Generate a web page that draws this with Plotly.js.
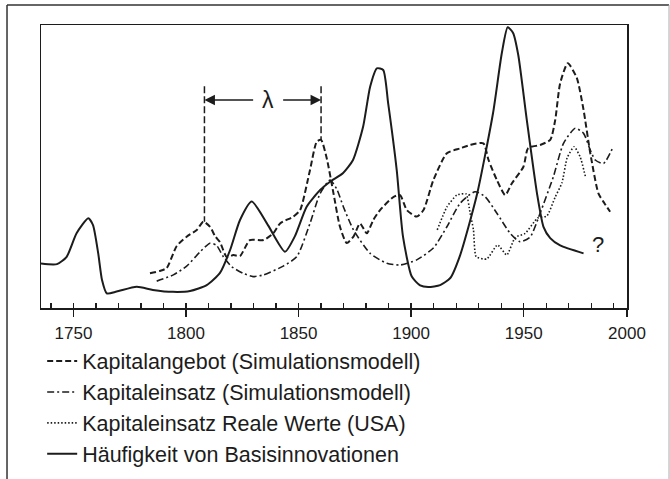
<!DOCTYPE html>
<html>
<head>
<meta charset="utf-8">
<script src="https://cdn.plot.ly/plotly-3.0.1.min.js"></script>
<style>html,body{margin:0;padding:0;background:#fff;}#chart{width:670px;height:479px;}</style>
</head>
<body>
<div id="chart"></div>
<script>
// Häufigkeit von Basisinnovationen (solid)
const innovYears = [1735.6,1742.7,1747.0,1751.4,1756.6,1758.7,1761.0,1762.7,1764.8,1769.2,1778.1,1785.3,1794.2,1801.8,1809.2,1815.1,1819.6,1824.0,1829.2,1836.4,1844.0,1848.4,1853.6,1859.6,1864.0,1869.8,1874.2,1878.7,1881.8,1884.8,1887.6,1889.8,1893.6,1896.4,1900.3,1904.0,1907.6,1912.9,1917.4,1921.8,1929.2,1936.4,1940.3,1942.9,1945.3,1947.6,1951.4,1955.9,1958.8,1961.8,1966.2,1976.6];
const innovVals  = [15.7,15.5,18.1,26.4,31.7,29.3,19.4,9.9,5.2,5.8,7.5,6.4,5.7,6.0,8.1,12.4,20.5,31.1,37.6,29.3,19.9,25.4,35.8,41.7,44.6,47.7,52.3,64.1,78.2,84.7,84.1,72.4,48.8,25.2,11.1,8.0,7.4,8.1,10.6,18.7,39.9,68.9,90.1,99.2,97.2,89.4,66.4,40.6,28.7,24.7,22.1,19.3];

// Kapitalangebot (Simulationsmodell) (dashed)
const angebotYears = [1784.0,1788.4,1791.4,1795.9,1800.3,1804.8,1807.7,1810.7,1812.9,1815.1,1818.1,1821.0,1824.0,1828.4,1834.4,1838.8,1841.8,1847.7,1850.7,1855.1,1858.1,1860.0,1862.5,1865.5,1868.4,1871.4,1874.4,1877.3,1880.3,1883.2,1886.2,1892.1,1895.1,1898.1,1902.5,1905.5,1909.9,1915.9,1921.8,1926.2,1932.1,1934.4,1938.1,1941.8,1944.8,1949.9,1952.0,1957.3,1961.8,1964.0,1966.2,1969.6,1973.6,1976.6,1979.6,1983.2,1985.8,1988.4];
const angebotVals  = [12.3,13.1,14.1,21.9,25.2,27.6,30.5,28.7,25.4,23.3,18.0,18.7,18.4,24.0,24.0,26.4,29.9,32.3,34.6,48.8,58.8,59.4,53.0,40.6,28.7,23.0,25.2,29.9,26.4,31.1,34.6,39.2,39.9,34.6,32.3,34.6,45.2,54.7,56.4,57.6,58.2,52.3,45.2,39.9,44.1,49.9,56.5,57.6,59.4,66.4,79.4,86.5,81.3,70.0,54.7,40.5,37.1,34.0];

// Kapitaleinsatz (Simulationsmodell) (dash-dot)
const einsatzYears = [1787.0,1794.4,1800.3,1806.2,1810.7,1813.6,1816.6,1820.3,1825.5,1829.8,1834.4,1843.2,1849.2,1855.1,1859.6,1864.0,1867.0,1869.9,1874.4,1881.8,1889.2,1895.1,1902.5,1909.9,1915.9,1921.8,1928.4,1932.9,1938.1,1944.0,1948.4,1952.9,1957.3,1963.2,1967.7,1972.9,1976.6,1979.6,1981.8,1985.5,1989.8];
const einsatzVals  = [9.5,11.7,14.8,19.8,22.9,22.1,18.1,14.6,12.2,11.1,11.7,14.8,18.1,29.9,40.5,45.2,42.0,35.8,27.6,19.3,15.8,15.2,17.0,21.2,28.7,37.0,41.1,39.3,33.5,26.4,23.4,25.1,33.5,46.4,58.2,63.5,61.7,55.8,52.3,51.1,57.0];

// Kapitaleinsatz Reale Werte (USA) (dotted)
const realYears = [1911.6,1915.9,1920.3,1924.4,1926.2,1927.7,1928.9,1933.6,1938.4,1942.5,1946.2,1950.7,1956.2,1960.3,1964.0,1967.0,1969.3,1972.4,1975.1,1977.6];
const realVals  = [27.6,35.7,39.9,40.3,33.6,27.6,18.1,17.3,22.3,18.7,24.9,26.4,31.8,32.5,39.2,44.2,53.0,57.0,53.4,45.9];

const seriesNames = ["Kapitalangebot (Simulationsmodell)","Kapitaleinsatz (Simulationsmodell)","Kapitaleinsatz Reale Werte (USA)","Häufigkeit von Basisinnovationen"];
const majorTicks = [1750,1800,1850,1900,1950,1995.9];
const majorLabels = ["1750","1800","1850","1900","1950","2000"];
const lambdaLeft = 1808.2, lambdaRight = 1860.0;

const ink = "#1c1c1c";
const traces = [
  {x: angebotYears, y: angebotVals, name: seriesNames[0], mode: "lines",
   line: {color: ink, width: 2, dash: "6px,3px", shape: "spline", smoothing: 0.6}},
  {x: einsatzYears, y: einsatzVals, name: seriesNames[1], mode: "lines",
   line: {color: ink, width: 1.6, dash: "7px,3px,2px,3px", shape: "spline", smoothing: 0.6}},
  {x: realYears, y: realVals, name: seriesNames[2], mode: "lines",
   line: {color: ink, width: 1.6, dash: "1.5px,2px", shape: "spline", smoothing: 0.5}},
  {x: innovYears, y: innovVals, name: seriesNames[3], mode: "lines",
   line: {color: ink, width: 2, shape: "spline", smoothing: 0.6}},
  {x: [majorTicks[0]], y: [null], xaxis: "x2", yaxis: "y", mode: "lines", showlegend: false, hoverinfo: "skip"}
];

const xr = [1735.6, 1995.9];
const layout = {
  width: 670, height: 479,
  margin: {l: 41, r: 43, t: 25, b: 171, autoexpand: false},
  paper_bgcolor: "#fff", plot_bgcolor: "#fff",
  font: {family: "Liberation Sans, Arial, sans-serif", color: ink},
  showlegend: true,
  legend: {x: 0.002, xanchor: "left", y: -0.115, yanchor: "top", borderwidth: 0,
    font: {size: 21.5, color: ink}, itemwidth: 30, bgcolor: "rgba(0,0,0,0)", tracegroupgap: 0},
  xaxis: {range: xr, tickmode: "array", tickvals: majorTicks, ticktext: majorLabels,
    ticks: "outside", ticklen: 7, tickwidth: 1.3, tickcolor: ink, ticklabelstandoff: 2,
    tickfont: {size: 17, color: ink}, showgrid: false, zeroline: false,
    showline: true, linecolor: ink, linewidth: 1.5, mirror: true, automargin: false,
    minor: {dtick: 10, tick0: 1740, ticks: "inside", ticklen: 5, tickwidth: 1.2, tickcolor: ink, showgrid: false}},
  xaxis2: {range: xr, overlaying: "x", anchor: "y", side: "bottom", tickmode: "array", tickvals: majorTicks,
    ticks: "inside", ticklen: 5, tickwidth: 1.3, tickcolor: ink, showticklabels: false,
    showgrid: false, zeroline: false, showline: false},
  yaxis: {range: [0, 100], showticklabels: false, ticks: "", showgrid: false, zeroline: false,
    showline: true, linecolor: ink, linewidth: 1.5, mirror: true},
  shapes: [
    {type: "line", xref: "paper", yref: "paper", x0: -0.058, x1: -0.058, y0: 1.0707, y1: -0.7, line: {color: "#333", width: 1.5}},
    {type: "line", xref: "paper", yref: "paper", x0: -0.058, x1: 1.0717, y0: 1.0707, y1: 1.0707, line: {color: "#333", width: 1.5}},
    {type: "line", xref: "paper", yref: "paper", x0: 1.0717, x1: 1.0717, y0: 1.0707, y1: -0.7, line: {color: "#aaa", width: 1}},
    {type: "line", xref: "x", yref: "y", x0: lambdaLeft, x1: lambdaLeft, y0: 78.4, y1: 30.5, line: {color: ink, width: 1.5, dash: "7px,3px"}},
    {type: "line", xref: "x", yref: "y", x0: lambdaRight, x1: lambdaRight, y0: 78.4, y1: 59.4, line: {color: ink, width: 1.5, dash: "7px,3px"}}
  ],
  annotations: [
    {x: lambdaLeft, y: 73.5, ax: 1830.5, ay: 73.5, axref: "x", ayref: "y", xref: "x", yref: "y",
     text: "", showarrow: true, arrowhead: 2, arrowsize: 1.4, arrowwidth: 1.5, arrowcolor: ink},
    {x: lambdaRight, y: 73.5, ax: 1842.5, ay: 73.5, axref: "x", ayref: "y", xref: "x", yref: "y",
     text: "", showarrow: true, arrowhead: 2, arrowsize: 1.4, arrowwidth: 1.5, arrowcolor: ink},
    {x: 1836.4, y: 73.5, xref: "x", yref: "y", text: "λ", showarrow: false, font: {size: 23, color: ink}},
    {x: 1983.1, y: 22.3, xref: "x", yref: "y", text: "?", showarrow: false, font: {size: 22, color: ink}}
  ]
};

Plotly.newPlot("chart", traces, layout, {displayModeBar: false, staticPlot: true});
</script>
</body>
</html>
